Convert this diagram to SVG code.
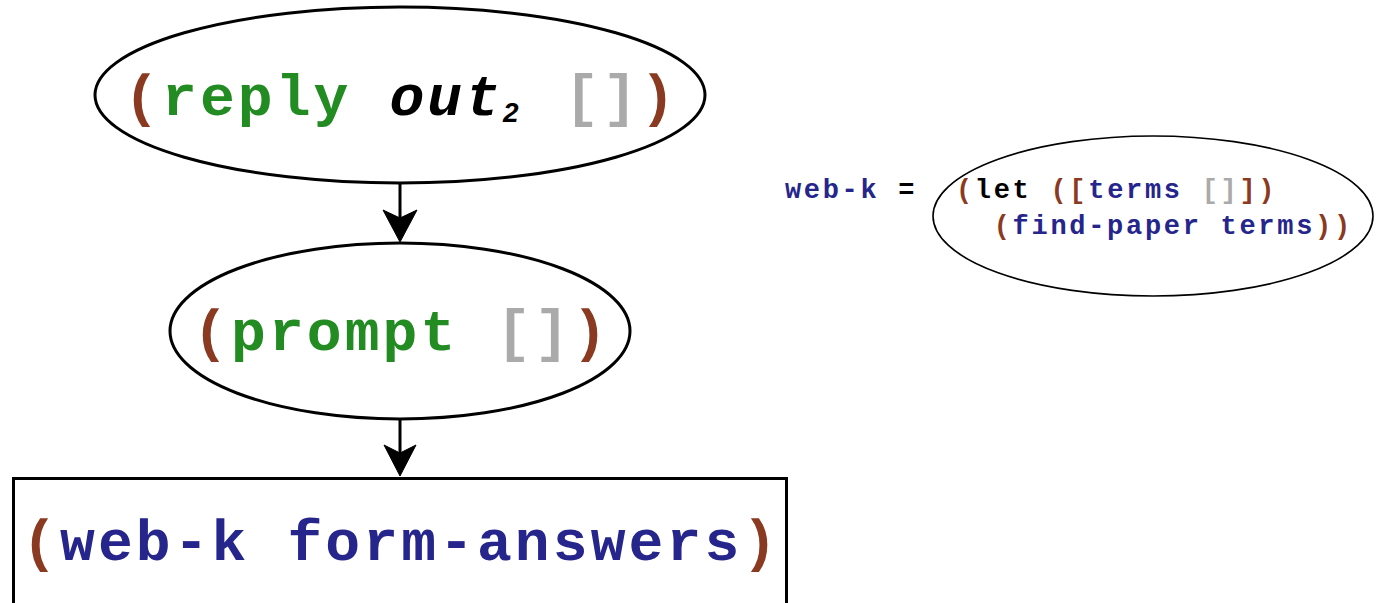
<svg xmlns="http://www.w3.org/2000/svg" width="1382" height="603" viewBox="0 0 1382 603">
<style>
  .big { font-family: "Liberation Mono", "Courier New", monospace; font-weight: bold; font-size: 58px; letter-spacing: 3.1px; }
  .small { font-family: "Liberation Mono", "Courier New", monospace; font-weight: bold; font-size: 27px; letter-spacing: 2.7px; }
  .br { fill: #8b3a22; }
  .gr { fill: #228b22; }
  .gy { fill: #aaaaaa; }
  .bl { fill: #25258c; }
  .bk { fill: #000000; }
  .node { fill: #ffffff; stroke: #000000; stroke-width: 3; }
  .edge { stroke: #000000; stroke-width: 3; fill: none; }
  .head { fill: #000000; stroke: #000000; stroke-width: 1; }
</style>
<rect width="1382" height="603" fill="#ffffff"/>
<g id="connectors">
  <line class="edge" x1="400" y1="183" x2="400" y2="222"/>
  <path class="head" d="M400,242 L383,210 L400,218 L417,210 Z"/>
  <line class="edge" x1="400" y1="419" x2="400" y2="455"/>
  <path class="head" d="M400,476 L384,445 L400,453 L416,445 Z"/>
</g>
<g id="node-reply">
  <ellipse class="node" cx="400" cy="95" rx="305" ry="88"/>
  <text class="big" x="124.1" y="115"><tspan class="br">(</tspan><tspan class="gr">reply </tspan><tspan class="bk" font-style="italic">out</tspan></text>
  <text x="503" y="122" font-family="Liberation Sans, Arial, sans-serif" font-style="italic" font-weight="bold" font-size="28px" fill="#000">2</text>
  <text class="big" x="564.5" y="115"><tspan class="gy">[]</tspan><tspan class="br">)</tspan></text>
</g>
<g id="node-prompt">
  <ellipse class="node" cx="400" cy="331" rx="230" ry="88"/>
  <text class="big" x="193.1" y="350"><tspan class="br">(</tspan><tspan class="gr">prompt </tspan><tspan class="gy">[]</tspan><tspan class="br">)</tspan></text>
</g>
<g id="node-webk">
  <rect class="node" x="13.5" y="478.5" width="773" height="130"/>
  <text class="big" x="22.1" y="560"><tspan class="br">(</tspan><tspan class="bl">web-k form-answers</tspan><tspan class="br">)</tspan></text>
</g>
<g id="node-def">
  <text class="small" x="784.9" y="198"><tspan class="bl">web-k</tspan><tspan class="bk"> =</tspan></text>
  <ellipse cx="1153" cy="216" rx="220" ry="80" fill="#ffffff" stroke="#000000" stroke-width="1.6"/>
  <text class="small" x="955.9" y="198"><tspan class="br">(</tspan><tspan class="bk">let </tspan><tspan class="br">([</tspan><tspan class="bl">terms </tspan><tspan class="gy">[]</tspan><tspan class="br">])</tspan></text>
  <text class="small" x="993.7" y="234"><tspan class="br">(</tspan><tspan class="bl">find-paper terms</tspan><tspan class="br">))</tspan></text>
</g>
</svg>
